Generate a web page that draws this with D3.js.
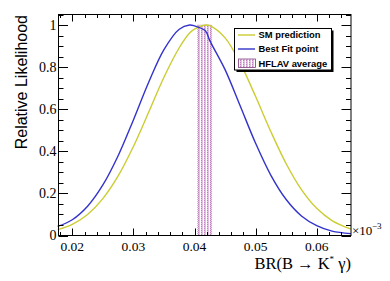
<!DOCTYPE html>
<html>
<head>
<meta charset="utf-8">
<script src="https://cdn.jsdelivr.net/npm/d3@7"></script>
<style>
  html, body { margin: 0; padding: 0; background: #fff; }
  svg { display: block; }
</style>
</head>
<body>
<svg id="chart" width="390" height="281"></svg>
<script>
// BR values (x) and relative likelihoods
const brValues = [0.0176, 0.020, 0.0225, 0.025, 0.0275, 0.030, 0.0325, 0.035, 0.0375, 0.0392, 0.040,
                  0.0418, 0.0425, 0.045, 0.0475, 0.050, 0.0525, 0.055, 0.0575, 0.060, 0.0625, 0.0656];
const smPrediction = [0.028, 0.053, 0.100, 0.175, 0.283, 0.423, 0.586, 0.752, 0.892, 0.962, 0.980,
                      1.000, 0.997, 0.939, 0.818, 0.660, 0.493, 0.341, 0.218, 0.129, 0.071, 0.030];
const bestFit = [0.043, 0.075, 0.139, 0.240, 0.379, 0.549, 0.728, 0.883, 0.980, 1.000, 0.996,
                 0.972, 0.926, 0.788, 0.614, 0.438, 0.286, 0.171, 0.093, 0.047, 0.021, 0.009];
const hflavBand = [0.0405, 0.0428];
const xMajorTicks = [0.02, 0.03, 0.04, 0.05, 0.06];
const yMajorTicks = [0, 0.2, 0.4, 0.6, 0.8, 1];
const legendItems = ["SM prediction", "Best Fit point", "HFLAV average"];

const svg = d3.select('#chart');
const padL = 58.5, padR = 351, padT = 14.5, padB = 235.5;

const x = d3.scaleLinear().domain([0.01774, 0.06561]).range([padL, padR]);
const y = d3.scaleLinear().domain([0, 1.05]).range([padB, padT]);

// hatch pattern for the HFLAV band
const defs = svg.append('defs');
const pat = defs.append('pattern')
    .attr('id', 'hflav')
    .attr('patternUnits', 'userSpaceOnUse')
    .attr('width', 3).attr('height', 2);
pat.append('rect').attr('width', 2).attr('height', 2).attr('fill', '#e2c0e2');
pat.append('rect').attr('width', 1).attr('height', 1).attr('fill', '#c080c0');

const yellow = '#cccc33';
const blue = '#3333cc';

// band
svg.append('rect')
    .attr('x', x(hflavBand[0]))
    .attr('y', y(1))
    .attr('width', x(hflavBand[1]) - x(hflavBand[0]))
    .attr('height', y(0) - y(1))
    .attr('fill', 'url(#hflav)')
    .attr('stroke', '#b070b0')
    .attr('stroke-width', 0.6)
    .attr('stroke-dasharray', '1,1');

// curves
const line = d3.line().curve(d3.curveCatmullRom);
svg.append('path')
    .attr('d', line(brValues.map((v, i) => [x(v), y(smPrediction[i])])))
    .attr('fill', 'none').attr('stroke', yellow).attr('stroke-width', 1.4);
svg.append('path')
    .attr('d', line(brValues.map((v, i) => [x(v), y(bestFit[i])])))
    .attr('fill', 'none').attr('stroke', blue).attr('stroke-width', 1.4);

// frame
svg.append('rect')
    .attr('x', padL).attr('y', padT)
    .attr('width', padR - padL).attr('height', padB - padT)
    .attr('fill', 'none').attr('stroke', '#000').attr('stroke-width', 1);

// ticks (inward, on all four sides)
const xMinor = d3.range(0.018, 0.0656, 0.002);
const yMinor = d3.range(0, 1.051, 0.05);
const tg = svg.append('g').attr('stroke', '#000').attr('stroke-width', 1);
xMinor.forEach(v => {
    const major = xMajorTicks.some(m => Math.abs(m - v) < 1e-6);
    const len = major ? 7 : 3.5;
    const px = Math.round(x(v)) + 0.5;
    tg.append('line').attr('x1', px).attr('x2', px).attr('y1', padB).attr('y2', padB - len);
    tg.append('line').attr('x1', px).attr('x2', px).attr('y1', padT).attr('y2', padT + len);
});
yMinor.forEach(v => {
    const major = yMajorTicks.some(m => Math.abs(m - v) < 1e-6);
    const len = major ? 9.5 : 5;
    const py = Math.round(y(v)) + 0.5;
    tg.append('line').attr('y1', py).attr('y2', py).attr('x1', padL).attr('x2', padL + len);
    tg.append('line').attr('y1', py).attr('y2', py).attr('x1', padR).attr('x2', padR - len);
});

// tick labels
const serif = '"Liberation Serif", "DejaVu Serif", serif';
svg.append('g').selectAll('text')
    .data(xMajorTicks).enter().append('text')
    .attr('x', d => x(d)).attr('y', 251)
    .attr('text-anchor', 'middle')
    .style('font-family', serif).style('font-size', '13.5px')
    .text(d => d.toFixed(2));
svg.append('g').selectAll('text')
    .data(yMajorTicks).enter().append('text')
    .attr('x', 56.5).attr('y', d => y(d)).attr('dy', '0.35em')
    .attr('text-anchor', 'end')
    .style('font-family', serif).style('font-size', '14px')
    .text(d => d === 0 || d === 1 ? d : d.toFixed(1));

// x10^-3
svg.append('text').attr('x', 352).attr('y', 235)
    .style('font-family', serif).style('font-size', '13px')
    .text('×10');
svg.append('text').attr('x', 372).attr('y', 229)
    .style('font-family', serif).style('font-size', '9px')
    .text('−3');

// axis titles
const xt = svg.append('text').attr('x', 351).attr('y', 269)
    .attr('text-anchor', 'end')
    .style('font-family', serif).style('font-size', '16.5px');
xt.append('tspan').text('BR(B → K');
xt.append('tspan').attr('dy', -7).style('font-size', '9px').text('*');
xt.append('tspan').attr('dy', 7).text(' γ)');

svg.append('text')
    .attr('transform', 'translate(27, 15) rotate(-90)')
    .attr('text-anchor', 'end')
    .style('font-family', '"Liberation Sans", Arial, sans-serif').style('font-size', '16px')
    .text('Relative Likelihood');

// legend
const lg = svg.append('g');
lg.append('rect').attr('x', 236.5).attr('y', 30.5).attr('width', 97).attr('height', 41.5).attr('fill', '#000');
lg.append('rect').attr('x', 234.5).attr('y', 28.5).attr('width', 97).attr('height', 41.5)
    .attr('fill', '#fff').attr('stroke', '#000').attr('stroke-width', 1);
const rows = [35, 49, 63.3];
lg.append('line').attr('x1', 238).attr('x2', 255).attr('y1', rows[0]).attr('y2', rows[0])
    .attr('stroke', yellow).attr('stroke-width', 1.4);
lg.append('line').attr('x1', 238).attr('x2', 255).attr('y1', rows[1]).attr('y2', rows[1])
    .attr('stroke', blue).attr('stroke-width', 1.4);
lg.append('rect').attr('x', 238.5).attr('y', 59).attr('width', 17).attr('height', 8.5)
    .attr('fill', 'url(#hflav)').attr('stroke', '#804080').attr('stroke-width', 0.8);
lg.selectAll('text.leg').data(legendItems).enter().append('text')
    .attr('class', 'leg')
    .attr('x', 258.5).attr('y', (d, i) => rows[i]).attr('dy', '0.36em')
    .style('font-family', '"Liberation Sans", Arial, sans-serif')
    .style('font-weight', 'bold').style('font-size', '9.4px')
    .text(d => d);
</script>
</body>
</html>
